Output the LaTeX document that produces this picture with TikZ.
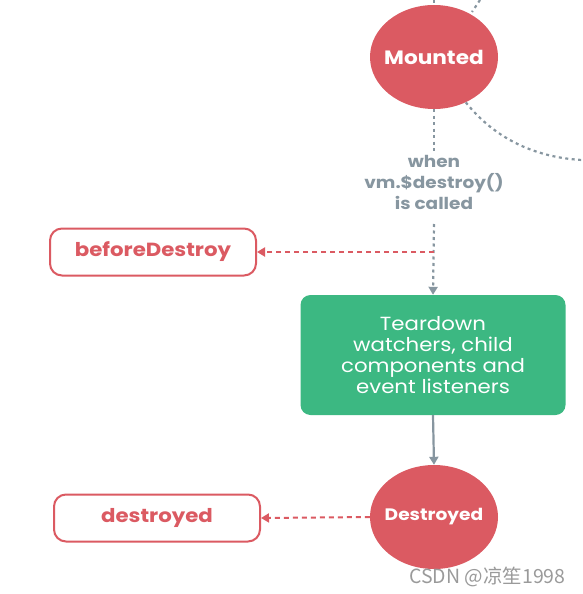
\documentclass[tikz,border=0pt]{standalone}
\usepackage{fontspec}
\setmainfont{Poppins}[FakeStretch=1.12]
\newfontfamily\cjk{Noto Sans CJK SC}
\usetikzlibrary{arrows.meta,shapes.geometric}
\definecolor{vred}{HTML}{DB5A62}
\definecolor{vgreen}{HTML}{3CB882}
\definecolor{vgray}{HTML}{8796A0}
\definecolor{wgray}{HTML}{9A9A9A}
\tikzset{
  state/.style={ellipse, fill=vred, minimum width=128pt, minimum height=104pt, inner sep=0pt, text=white, font=\bfseries\fontsize{19.3}{22}\selectfont},
  hookbox/.style={draw=vred, line width=2pt, rounded corners=12pt, fill=white, text=vred, minimum width=206pt, minimum height=47pt, inner sep=0pt, font=\bfseries\fontsize{19}{22}\selectfont},
  actbox/.style={fill=vgreen, rounded corners=10pt, text=white, minimum width=265pt, minimum height=120pt, inner sep=0pt, align=center, font=\fontsize{19}{21}\selectfont},
  dotline/.style={draw=vgray, line width=2.2pt, dash pattern=on 3pt off 3.5pt},
  redline/.style={draw=vred, line width=2pt, dash pattern=on 5pt off 4pt},
  tip/.style={-{Triangle[width=9pt,length=8pt]}}
}
\begin{document}
\begin{tikzpicture}[x=1pt,y=-1pt]
\useasboundingbox (0,0) rectangle (582,594);
% nodes
\node[state] (mounted) at (434,57) {\makebox[0pt]{Mounted}};
\node[text=vgray, align=center, font=\bfseries\fontsize{16.5}{21}\selectfont] (when) at (434,182) {when\\vm.\$destroy()\\is called};
\node[hookbox] (before) at (153,252) {beforeDestroy};
\node[actbox] (tear) at (433,355) {Teardown\\watchers, child\\components and\\event listeners};
\node[state, font=\bfseries\fontsize{16.6}{20}\selectfont] (destroyed) at (434,517) {\makebox[0pt]{Destroyed}};
\node[hookbox] (dhook) at (157,518) {destroyed};
\node[text=wgray, font=\cjk\fontsize{19.5}{22}\selectfont, anchor=east] (wm) at (569,577) {CSDN @凉笙1998};
% free-end coordinates
\coordinate (topA) at (434,0);
\coordinate (topB) at (480,0);
\coordinate (topBb) at (472,12);
\coordinate (curveEnd) at (582,160);
\coordinate (split) at (434,252);
\coordinate (whenBot) at (434,224);
% connectors
\draw[dotline] (topA) -- (mounted.north);
\draw[dotline] (topB) -- (topBb);
\draw[dotline] (mounted.-55) .. controls (500,145) and (545,158) .. (curveEnd);
\draw[dotline] (mounted.south) -- (when.north);
\draw[dotline, tip] (whenBot) -- (tear.north);
\draw[redline, tip] (split) -- (before.east);
\draw[draw=vgray, line width=2.2pt, tip] (tear.south) -- (destroyed.north);
\draw[redline, tip] (destroyed.west) -- (dhook.east);
\end{tikzpicture}
\end{document}
